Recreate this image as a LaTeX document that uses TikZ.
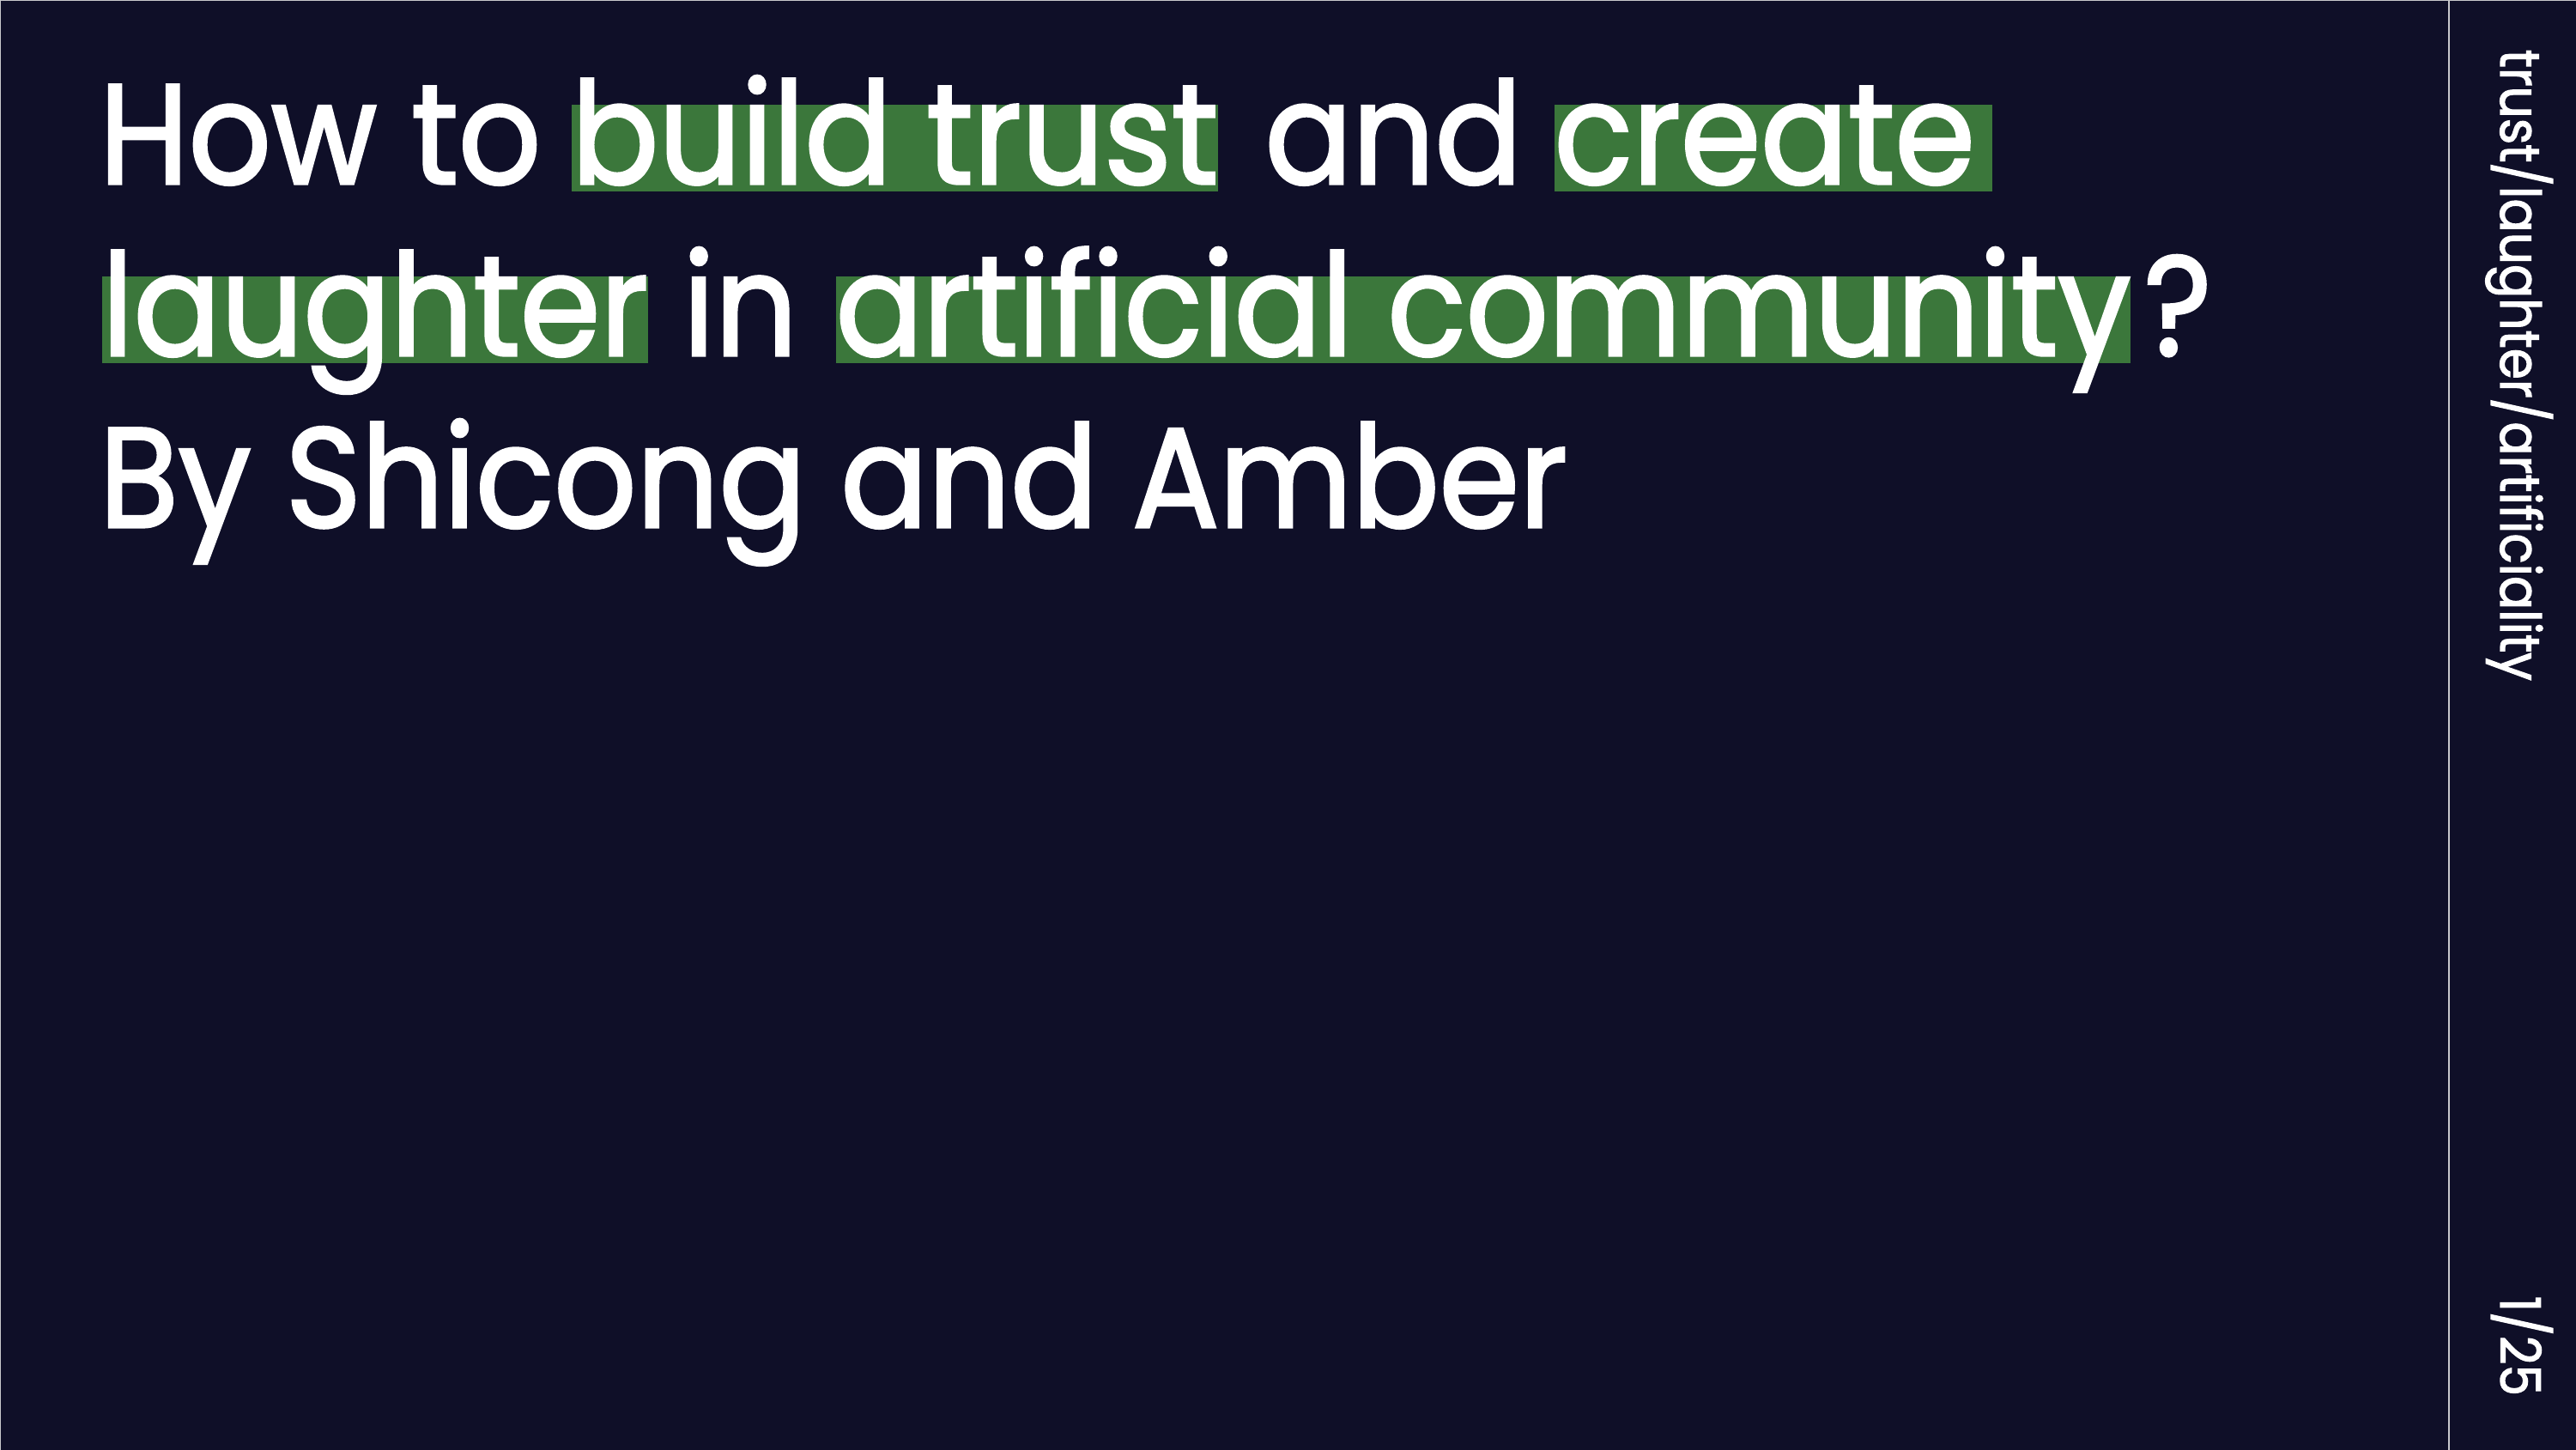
\documentclass[tikz,border=0pt]{standalone}
\usepackage{fontspec}
\usepackage{graphicx}
\usepackage{xcolor}
\usepackage{tikz}
\setmainfont{Poppins}[FakeBold=2]

\definecolor{bgnavy}{HTML}{0F0F28}
\definecolor{hlgreen}{HTML}{3B773B}
\definecolor{rulegray}{HTML}{C8C8CC}

\newcommand{\sqz}[1]{\scalebox{0.91}[1.0]{#1}}
\newcommand{\sqztag}[1]{\scalebox{0.90}[1.0]{#1}}

\tikzset{
  word/.style={anchor=base west, inner sep=0pt, text=white,
    font=\fontsize{47}{56}\selectfont},
  hilite/.style={word, fill=hlgreen, text height=0.92cm, text depth=0.09cm},
  tag/.style={anchor=base west, inner sep=0pt, text=white, rotate=-90,
    font=\fontsize{18.4}{22}\selectfont}
}

\begin{document}
\begin{tikzpicture}
% Slide
\useasboundingbox (0,0) rectangle (30.01,16.89);
\fill[bgnavy] (0,0) rectangle (30.01,16.89);
\draw[rulegray,line width=0.01cm] (0.005,0) -- (0.005,16.885) -- (30.01,16.885);

% Title, line 1
\node[word]   (how)   at (1.15,14.75) {\sqz{How to}};
\node[hilite] (build) at (6.65,14.75) {\sqz{build trust}\hspace{0.08cm}};
\node[word]   (and)   at (14.73,14.75) {\sqz{and}};
\node[hilite,text width=5.10cm,align=left] (create) at (18.10,14.75) {\sqz{create}};

% Title, line 2
\node[hilite] (laughter) at (1.18,12.75) {\sqz{laughter}};
\node[word]   (in)    at (7.95,12.75) {\sqz{in}};
\node[hilite] (artificial) at (9.73,12.75) {\sqz{artificial community}};
\node[word]   (qmark) at (24.97,12.75) {\sqz{?}};

% Authors
\node[word]   (byline) at (1.15,10.75) {\sqz{By Shicong and Amber}};

% Side strip
\draw[rulegray,line width=0.02cm] (28.53,0) -- (28.53,16.89);
\node[tag] (topics) at (29.13,16.32) {\sqztag{trust/laughter/artificiality}};
\node[tag] (pageno) at (29.13,1.80) {\sqztag{1/25}};
\end{tikzpicture}
\end{document}
